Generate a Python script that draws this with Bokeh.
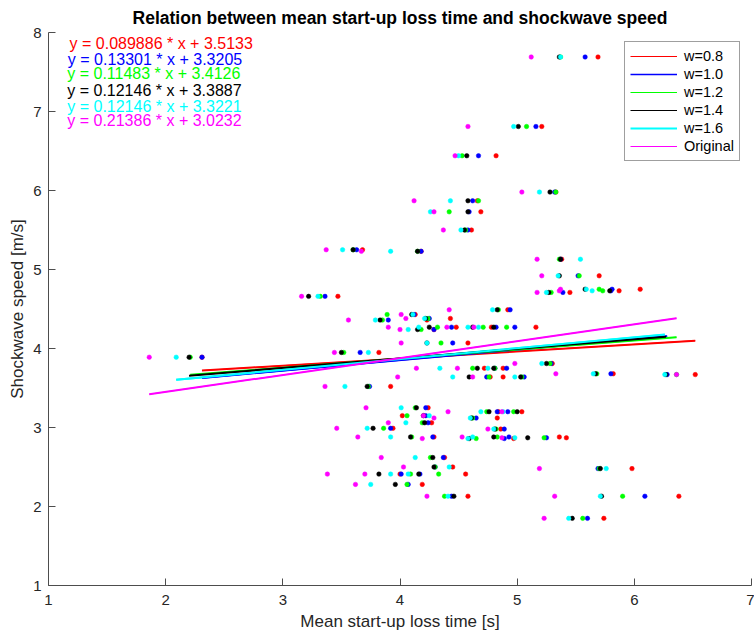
from bokeh.plotting import figure
from bokeh.models import Range1d, FixedTicker, Legend, LegendItem
from bokeh.embed import file_html
from bokeh.resources import INLINE
from bokeh.core.properties import value

# Shockwave speed [m/s] for each observation (shared by all series)
speed = [7.69, 6.81, 6.44, 5.98, 5.87, 5.73, 5.50, 5.25, 5.23, 5.13,
         4.92, 4.71, 4.75, 4.73, 4.66, 4.49, 4.43, 4.36, 4.38, 4.27,
         4.24, 4.27, 4.27, 4.07, 3.95, 3.89, 3.81, 3.75, 3.75, 3.68,
         3.67, 3.64, 3.64, 3.52, 3.25, 3.20, 3.20, 3.15, 3.12, 3.06,
         2.99, 2.98, 2.88, 2.86, 2.88, 2.87, 2.62, 2.50, 2.48, 2.41,
         2.41, 2.28, 2.13, 2.13, 1.85]

# Mean start-up loss time [s] per series
x_w08 = [5.69, 5.21, 4.82, 5.33, 4.66, 4.69, 4.61, 3.68, 4.18, 5.38,
         5.70, 5.45, 6.05, 5.87, 3.47, 4.92, 4.13, 4.23, 4.43, 4.48,
         4.29, 4.78, 5.16, 4.58, 3.82, 2.31, 5.30, 4.72, 4.88, 5.82,
         6.52, 4.77, 4.88, 3.92, 4.24, 4.84, 5.04, 4.02, 4.83, 4.27,
         3.94, 4.86, 4.29, 4.97, 5.36, 5.42, 4.38, 4.45, 5.98, 4.00,
         4.56, 4.19, 4.58, 6.38, 5.74]
x_w10 = [5.58, 5.16, 4.67, 5.32, 4.62, 4.59, 4.58, 3.63, 4.18, 5.37,
         5.52, 5.39, 5.81, 5.80, 3.36, 4.94, 4.12, 3.90, 4.25, 4.44,
         4.29, 4.82, 4.98, 4.45, 3.66, 2.31, 5.29, 4.81, 4.91, 5.80,
         6.28, 4.74, 5.06, 3.74, 4.22, 4.83, 4.92, 4.22, 4.65, 4.24,
         3.92, 4.89, 4.28, 4.89, 4.93, 5.25, 4.37, 4.30, 5.69, 4.01,
         4.17, 4.07, 4.44, 6.09, 5.60]
x_w12 = [5.37, 5.08, 4.53, 5.33, 4.67, 4.42, 4.56, 3.60, 4.15, 5.36,
         5.53, 5.29, 5.70, 5.73, 3.32, 4.84, 3.89, 3.85, 4.24, 4.32,
         4.18, 4.71, 4.91, 4.35, 3.52, 2.21, 5.28, 4.62, 4.81, 5.68,
         6.36, 4.76, 5.04, 3.73, 4.13, 4.74, 4.97, 4.06, 4.62, 4.19,
         3.86, 4.82, 4.10, 4.65, 4.83, 5.23, 4.26, 4.30, 5.70, 4.33,
         4.09, 4.06, 4.38, 5.90, 5.56]
x_w14 = [5.36, 5.01, 4.57, 5.28, 4.58, 4.58, 4.55, 3.60, 4.15, 5.37,
         5.36, 5.27, 5.58, 5.79, 3.22, 4.83, 4.10, 3.83, 4.22, 4.25,
         4.15, 4.62, 4.80, 4.23, 3.50, 2.20, 5.25, 4.66, 4.80, 5.67,
         6.27, 4.59, 5.03, 3.72, 4.14, 4.76, 5.00, 4.20, 4.61, 4.21,
         3.77, 4.81, 4.09, 4.59, 4.80, 5.09, 4.28, 4.29, 5.71, 3.82,
         4.16, 3.96, 4.46, 5.72, 5.47]
x_w16 = [5.37, 4.97, 4.50, 5.19, 4.43, 4.26, 4.52, 3.51, 3.92, 5.54,
         5.35, 5.25, 5.59, 5.64, 3.30, 4.79, 4.11, 3.79, 4.21, 4.16,
         4.07, 4.58, 4.67, 4.23, 3.73, 2.09, 5.21, 4.34, 4.75, 5.65,
         6.26, 4.45, 4.98, 3.53, 4.01, 4.69, 4.88, 4.25, 4.60, 4.05,
         3.72, 4.80, 3.92, 4.58, 4.62, 4.98, 4.13, 4.42, 5.76, 3.92,
         4.07, 3.75, 4.41, 5.71, 5.44]
x_orig = [5.12, 4.58, 4.47, 5.04, 4.12, 4.29, 4.37, 3.37, 3.67, 5.17,
          5.21, 5.17, 5.37, 5.36, 3.16, 4.42, 4.01, 3.56, 4.05, 3.90,
          4.00, 4.40, 4.63, 4.01, 3.44, 1.86, 4.98, 4.14, 4.49, 5.33,
          6.36, 3.98, 4.62, 3.36, 3.71, 4.41, 4.87, 4.20, 4.29, 3.90,
          3.46, 4.75, 3.64, 4.19, 4.53, 4.87, 3.84, 4.03, 5.19, 3.38,
          3.70, 3.62, 4.23, 5.32, 5.23]

series_labels = ["w=0.8", "w=1.0", "w=1.2", "w=1.4", "w=1.6", "Original"]
# coefficients printed in the equation texts
label_slopes = [0.089886, 0.13301, 0.11483, 0.12146, 0.12146, 0.21386]
label_intercepts = [3.5133, 3.3205, 3.4126, 3.3887, 3.3221, 3.0232]
# coefficients of the drawn fit lines (the w=1.6 line as drawn differs from its text)
fit_slopes = [0.089886, 0.13301, 0.11483, 0.12146, 0.137, 0.21386]
fit_intercepts = [3.5133, 3.3205, 3.4126, 3.3887, 3.318, 3.0232]
colors = ["#ff0000", "#0000ff", "#00ff00", "#000000", "#00ffff", "#ff00ff"]
x_ticks = [1, 2, 3, 4, 5, 6, 7]
y_ticks = [1, 2, 3, 4, 5, 6, 7, 8]

FONT = "Liberation Sans"
AX = "#4d4d4d"

p = figure(width=754, height=639, x_range=Range1d(1, 7), y_range=Range1d(1, 8),
           output_backend="svg", toolbar_location=None,
           min_border_left=48, min_border_right=3, min_border_top=32, min_border_bottom=54,
           title="Relation between mean start-up loss time and shockwave speed")
p.title.align = "center"
p.title.text_font = FONT
p.title.text_font_size = "17.5px"
p.title.text_font_style = "bold"
p.title.text_color = "#000000"
p.title.standoff = 10
p.xgrid.visible = False
p.ygrid.visible = False
p.outline_line_color = None
p.background_fill_color = "white"
p.border_fill_color = "white"

p.xaxis.ticker = FixedTicker(ticks=x_ticks)
p.yaxis.ticker = FixedTicker(ticks=y_ticks)
p.xaxis.axis_label = "Mean start-up loss time [s]"
p.yaxis.axis_label = "Shockwave speed [m/s]"
for ax in (p.xaxis[0], p.yaxis[0]):
    ax.axis_line_color = AX
    ax.major_tick_line_color = AX
    ax.minor_tick_line_color = None
    ax.major_tick_in = 7
    ax.major_tick_out = 0
    ax.major_label_text_font = FONT
    ax.major_label_text_font_size = "15px"
    ax.major_label_text_color = "#262626"
    ax.axis_label_text_font = FONT
    ax.axis_label_text_font_size = "17px"
    ax.axis_label_text_font_style = "normal"
    ax.axis_label_text_color = "#262626"
p.xaxis.major_label_standoff = 9
p.yaxis.major_label_standoff = 7
p.xaxis.axis_label_standoff = 4
p.yaxis.axis_label_standoff = 3

all_x = [x_w08, x_w10, x_w12, x_w14, x_w16, x_orig]

for xs, c in zip(all_x, colors):
    p.scatter(xs, speed, size=4.5, fill_color=c, line_color=c, line_width=0.5)

# thin copies of the fit lines, used as the legend samples (hidden under the thick lines)
legend_widths = [1, 1.6, 1, 1, 2.2, 1]
legend_renderers = []
for xs, a, b, c, w in zip(all_x, fit_slopes, fit_intercepts, colors, legend_widths):
    x0, x1 = min(xs), max(xs)
    legend_renderers.append(p.line([x0, x1], [a * x0 + b, a * x1 + b], line_color=c, line_width=w))

for xs, a, b, c in zip(all_x, fit_slopes, fit_intercepts, colors):
    x0, x1 = min(xs), max(xs)
    p.line([x0, x1], [a * x0 + b, a * x1 + b], line_color=c, line_width=2)

eqs = [f"y = {a:.5g} * x + {b:.5g}" for a, b in zip(label_slopes, label_intercepts)]
p.text(x=[1.18, 1.165, 1.16, 1.16, 1.16, 1.16],
       y=[7.865, 7.655, 7.48, 7.27, 7.065, 6.88],
       text=eqs, text_color=colors, text_font=value(FONT), text_font_size="16px",
       text_baseline="middle", text_align="left")

legend = Legend(items=[LegendItem(label=l, renderers=[r]) for l, r in zip(series_labels, legend_renderers)],
                location=(576, 424))
legend.label_text_font = FONT
legend.label_text_font_size = "14.5px"
legend.label_text_color = "#000000"
legend.glyph_width = 47
legend.glyph_height = 18
legend.label_height = 18
legend.label_standoff = 7
legend.spacing = 0
legend.padding = 5
legend.margin = 0
legend.border_line_color = "#404040"
legend.border_line_width = 1
legend.background_fill_color = "white"
legend.background_fill_alpha = 1
p.add_layout(legend)

open("out.html", "w").write(file_html(p, INLINE))
